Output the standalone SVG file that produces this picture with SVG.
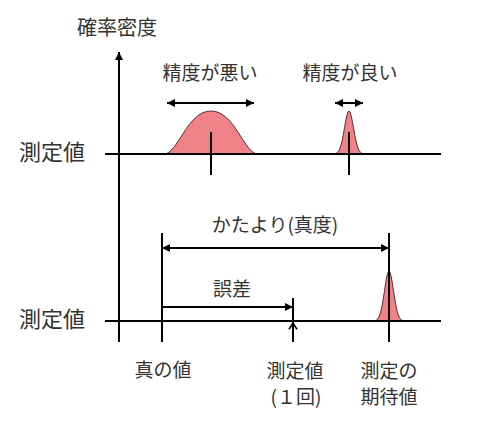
<svg xmlns="http://www.w3.org/2000/svg" width="500" height="430" viewBox="0 0 500 430">
<style>
.ln{stroke:#000;stroke-width:2;fill:none}
.pk{fill:#f08389;stroke:#5a2a2a;stroke-width:1}
text{font-family:"Noto Sans CJK JP","Noto Sans",sans-serif;fill:#333;text-anchor:middle}
</style>
<defs>
<marker id="ah" viewBox="0 0 10 10" refX="10" refY="5" markerWidth="9" markerHeight="8" markerUnits="userSpaceOnUse" orient="auto-start-reverse">
<path d="M0,0 L10,5 L0,10 Z" fill="#000"/>
</marker>
<marker id="oh" viewBox="0 0 10 12" refX="9" refY="6" markerWidth="8" markerHeight="11" markerUnits="userSpaceOnUse" orient="auto">
<path d="M1,1 L9,6 L1,11" fill="none" stroke="#000" stroke-width="2"/>
</marker>
</defs>

<g id="peaks">
<path class="pk" d="M164,154 C178,154 187,111 211,111 C235,111 244,154 258,154 Z"/>
<path class="pk" d="M335.5,154 L335.5,153.5 336.6,153.0 337.75,152.1 338.9,150.6 340,148.2 341.1,144.7 342.25,140.0 343.4,134.3 344.5,127.9 345.6,121.5 346.75,116.05 347.9,112.3 349,111 350.1,112.3 351.25,116.05 352.4,121.5 353.5,127.9 354.6,134.3 355.75,140.0 356.9,144.7 358,148.2 359.1,150.6 360.25,152.1 361.4,153.0 362.5,153.5 362.5,154 Z"/>
<path class="pk" d="M375.5,321 L375.5,320.4 376.6,319.9 377.75,318.8 378.9,317.0 380,314.2 381.1,310.2 382.25,304.8 383.4,298.1 384.5,290.7 385.6,283.3 386.75,276.9 387.9,272.5 389,271 390.1,272.5 391.25,276.9 392.4,283.3 393.5,290.7 394.6,298.1 395.75,304.8 396.9,310.2 398,314.2 399.1,317.0 400.25,318.8 401.4,319.9 402.5,320.4 402.5,321 Z"/>
</g>

<g id="connectors">
<line class="ln" x1="119" y1="342" x2="119" y2="52" marker-end="url(#ah)"/>
<line class="ln" x1="105" y1="154" x2="441" y2="154"/>
<line class="ln" x1="105" y1="321" x2="441" y2="321"/>
<line class="ln" x1="211" y1="132" x2="211" y2="175"/>
<line class="ln" x1="349" y1="132" x2="349" y2="175"/>
<line class="ln" x1="167" y1="103" x2="254" y2="103" marker-start="url(#ah)" marker-end="url(#ah)"/>
<line class="ln" x1="335" y1="103" x2="363" y2="103" marker-start="url(#ah)" marker-end="url(#ah)"/>
<line class="ln" x1="162" y1="233" x2="162" y2="342"/>
<line class="ln" x1="389" y1="233" x2="389" y2="342"/>
<line class="ln" x1="293" y1="298" x2="293" y2="342"/>
<line class="ln" x1="162" y1="248" x2="389" y2="248" marker-start="url(#ah)" marker-end="url(#ah)"/>
<line class="ln" x1="162" y1="307" x2="293" y2="307" marker-end="url(#ah)"/>
<line class="ln" x1="293" y1="342" x2="293" y2="323" marker-end="url(#oh)"/>
</g>

<g id="labels">
<text x="117" y="35" font-size="20">確率密度</text>
<text x="52" y="160" font-size="22">測定値</text>
<text x="52" y="327" font-size="22">測定値</text>
<text x="210" y="80" font-size="19">精度が悪い</text>
<text x="350" y="80" font-size="19">精度が良い</text>
<text x="275" y="232" font-size="19">かたより(真度)</text>
<text x="232" y="296" font-size="19">誤差</text>
<text x="163" y="377" font-size="19">真の値</text>
<text x="295" y="378" font-size="19">測定値</text>
<text x="296" y="404" font-size="19">(１回)</text>
<text x="389" y="378" font-size="19">測定の</text>
<text x="389" y="404" font-size="19">期待値</text>
</g>
</svg>
